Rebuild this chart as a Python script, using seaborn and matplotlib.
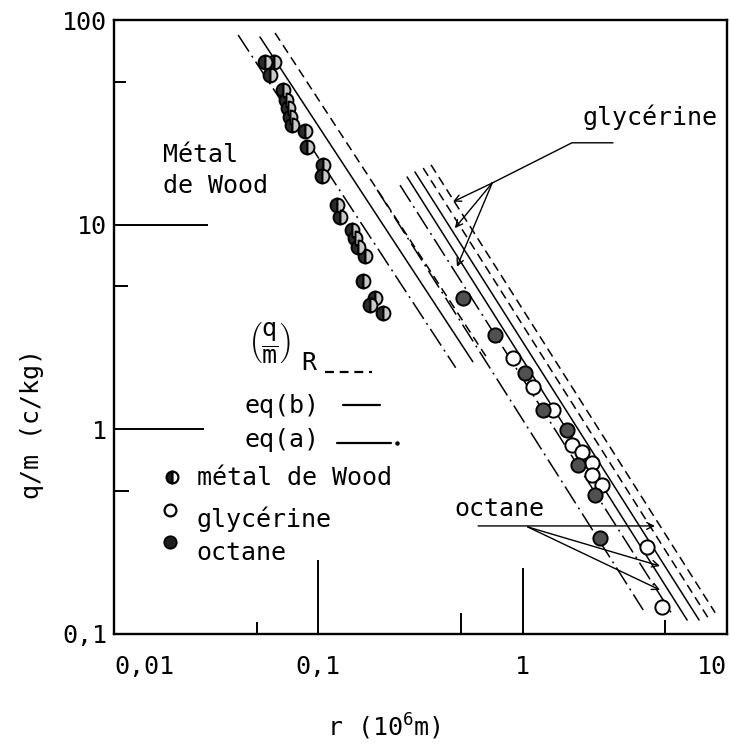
import pandas as pd
import matplotlib
matplotlib.use("Agg")
import matplotlib.pyplot as plt
from matplotlib.ticker import NullFormatter
import seaborn as sns

sns.set_theme(style="white")
plt.rcParams.update({
    "font.family": ["DejaVu Sans Mono"],
    "mathtext.fontset": "custom",
    "mathtext.rm": "DejaVu Sans Mono",
    "mathtext.it": "DejaVu Sans Mono",
    "mathtext.bf": "DejaVu Sans Mono",
    "text.color": "black",
    "axes.labelcolor": "black",
    "axes.edgecolor": "black",
    "xtick.color": "black",
    "ytick.color": "black",
})

# --- data ---
wood_r = [0.055, 0.061, 0.058, 0.067, 0.0695, 0.071, 0.073, 0.074, 0.086, 0.088,
          0.105, 0.104, 0.123, 0.128, 0.146, 0.151, 0.156, 0.169, 0.166, 0.190,
          0.179, 0.207]
wood_qm = [62.3, 62.3, 53.9, 45.5, 40.6, 37.2, 33.6, 30.7, 28.7, 24.0,
           19.6, 17.3, 12.5, 10.9, 9.4, 8.6, 7.8, 7.0, 5.3, 4.4,
           4.05, 3.7]

glyc_r = [0.898, 1.124, 1.409, 1.745, 1.954, 2.187, 2.19, 2.447, 4.06, 4.81]
glyc_qm = [2.23, 1.61, 1.245, 0.839, 0.776, 0.685, 0.598, 0.535, 0.267, 0.136]

oct_r = [0.510, 0.733, 1.028, 1.259, 1.649, 1.867, 2.262, 2.393]
oct_qm = [4.39, 2.89, 1.887, 1.245, 0.993, 0.670, 0.478, 0.294]

# model lines (start / end), kind: a = eq(a), b = eq(b), R = (q/m)_R
line_kind = ["a", "b", "R", "a", "a", "b", "b", "R", "R"]
line_r0 = [0.0405, 0.0518, 0.0614, 0.194, 0.251, 0.272, 0.297, 0.326, 0.356]
line_q0 = [84.5, 82.6, 86.4, 14.8, 15.6, 17.1, 18.1, 18.9, 19.6]
line_r1 = [0.470, 0.570, 0.660, 3.89, 5.39, 6.38, 7.30, 8.08, 8.75]
line_q1 = [2.00, 2.14, 2.28, 0.131, 0.125, 0.117, 0.117, 0.120, 0.127]

x_major = [0.01, 0.1, 1, 10]
x_labels = ["0,01", "0,1", "1", "10"]
y_major = [0.1, 1, 10, 100]
y_labels = ["0,1", "1", "10", "100"]
x_minor = [0.05, 0.5, 5]
y_minor = [0.5, 5, 50]

rows = []
for i, k in enumerate(line_kind):
    rows.append({"line": i, "kind": k, "r": line_r0[i], "qm": line_q0[i]})
    rows.append({"line": i, "kind": k, "r": line_r1[i], "qm": line_q1[i]})
lines_df = pd.DataFrame(rows)

FS = 18
DASH_A = (13, 3.3, 1.3, 3.3)
DASH_R = (6, 3.5)

fig = plt.figure(figsize=(7.30, 7.54), dpi=100)
ax = fig.add_axes([114 / 730, 120 / 754, 613 / 730, 614 / 754])
ax.set_xscale("log")
ax.set_yscale("log")

sns.lineplot(
    data=lines_df, x="r", y="qm", units="line", style="kind",
    dashes={"a": DASH_A, "b": "", "R": DASH_R},
    estimator=None, sort=False, color="black", linewidth=1.1,
    legend=False, ax=ax, zorder=2,
)

ax.plot(wood_r, wood_qm, "o", ms=10, fillstyle="left", mfc="#2b2b2b",
        mfcalt="#c8c8c8", mec="black", mew=1.4, zorder=3)
sns.scatterplot(x=glyc_r, y=glyc_qm, marker="o", s=105, facecolor="white",
                edgecolor="black", linewidth=1.4, ax=ax, zorder=3)
sns.scatterplot(x=oct_r, y=oct_qm, marker="o", s=105, facecolor="#505050",
                edgecolor="black", linewidth=1.4, ax=ax, zorder=3)

ax.set_xlim(0.01, 10)
ax.set_ylim(0.1, 100)

# axes / ticks
for s in ax.spines.values():
    s.set_linewidth(1.7)
ax.set_xticks(x_major, labels=x_labels)
ax.set_yticks(y_major, labels=y_labels)
ax.set_xticks(x_minor, minor=True)
ax.set_yticks(y_minor, minor=True)
ax.xaxis.set_minor_formatter(NullFormatter())
ax.yaxis.set_minor_formatter(NullFormatter())
ax.tick_params(which="both", direction="in", bottom=True, left=True,
               top=False, right=False, width=1.4, labelsize=FS)
ax.tick_params(axis="x", which="major", pad=15)
ax.tick_params(axis="y", which="major", pad=5)

for t, L in zip(ax.xaxis.get_major_ticks(), [0, 53, 47.5, 0]):
    t.tick1line.set_markersize(L)
for t, L in zip(ax.yaxis.get_major_ticks(), [0, 65, 68, 0]):
    t.tick1line.set_markersize(L)
for t, L in zip(ax.xaxis.get_minor_ticks(), [8.6, 15, 10]):
    t.tick1line.set_markersize(L)
for t, L in zip(ax.yaxis.get_minor_ticks(), [10.8, 10, 8.6]):
    t.tick1line.set_markersize(L)
xt = ax.xaxis.get_major_ticks()
xt[0].label1.set_ha("left")
xt[-1].label1.set_ha("right")

ax.set_xlabel(r"r (10$^6$m)", fontsize=FS)
ax.set_ylabel("q/m (c/kg)", fontsize=FS)
ax.xaxis.set_label_coords(0.44, -0.152)
ax.xaxis.label.set_va("center")
ax.yaxis.set_label_coords(-0.134, 0.342)
ax.yaxis.label.set_va("center")

T = ax.transAxes

# in-plot labels
ax.text(0.080, 0.769, "Métal", transform=T, fontsize=FS, va="baseline")
ax.text(0.080, 0.718, "de Wood", transform=T, fontsize=FS, va="baseline")
ax.text(0.765, 0.829, "glycérine", transform=T, fontsize=FS, va="baseline")
ax.text(0.556, 0.192, "octane", transform=T, fontsize=FS, va="baseline")

# glycerine leader + arrows
ax.plot([0.814, 0.747, 0.617], [0.800, 0.800, 0.7345], transform=T,
        color="black", lw=1.0)
arrow = dict(arrowstyle="->", color="black", lw=1.0, shrinkA=0, shrinkB=0)
for tx, ty in [(0.553, 0.704), (0.556, 0.661), (0.5595, 0.598)]:
    ax.annotate("", xy=(tx, ty), xytext=(0.617, 0.7345), xycoords=T,
                textcoords=T, arrowprops=arrow)

# octane leader + arrows
ax.annotate("", xy=(0.8825, 0.176), xytext=(0.594, 0.176), xycoords=T,
            textcoords=T, arrowprops=arrow)
for tx, ty in [(0.8907, 0.1107), (0.8907, 0.0717)]:
    ax.annotate("", xy=(tx, ty), xytext=(0.675, 0.1743), xycoords=T,
                textcoords=T, arrowprops=arrow)

# hand-drawn style legend
ax.text(0.2186, 0.475, r"$\left(\dfrac{q}{m}\right)$", transform=T,
        fontsize=FS, va="center")
ax.text(0.305, 0.43, "R", transform=T, fontsize=FS, va="baseline")
ax.plot([0.344, 0.421], [0.4267, 0.4267], transform=T, color="black",
        lw=1.6, linestyle=(0, (4, 2.6)))
ax.text(0.213, 0.360, "eq(b)", transform=T, fontsize=FS, va="baseline")
ax.plot([0.3736, 0.4339], [0.373, 0.373], transform=T, color="black", lw=1.6)
ax.text(0.213, 0.3046, "eq(a)", transform=T, fontsize=FS, va="baseline")
ax.plot([0.364, 0.452], [0.311, 0.311], transform=T, color="black", lw=1.6)
ax.plot([0.461], [0.311], "o", ms=2.2, color="black", transform=T)

ax.plot([0.0946], [0.2557], "o", transform=T, ms=8.5, fillstyle="left",
        mfc="#1e1e1e", mfcalt="white", mec="black", mew=1.6, clip_on=False)
ax.text(0.135, 0.2427, "métal de Wood", transform=T, fontsize=FS, va="baseline")
ax.plot([0.0914], [0.202], "o", transform=T, ms=8.5, mfc="white",
        mec="black", mew=1.6, clip_on=False)
ax.text(0.135, 0.174, "glycérine", transform=T, fontsize=FS, va="baseline")
ax.plot([0.0914], [0.150], "o", transform=T, ms=9, mfc="#1e1e1e",
        mec="black", mew=1.2, clip_on=False)
ax.text(0.135, 0.1205, "octane", transform=T, fontsize=FS, va="baseline")

fig.savefig("out.png", dpi=100, facecolor="white")
